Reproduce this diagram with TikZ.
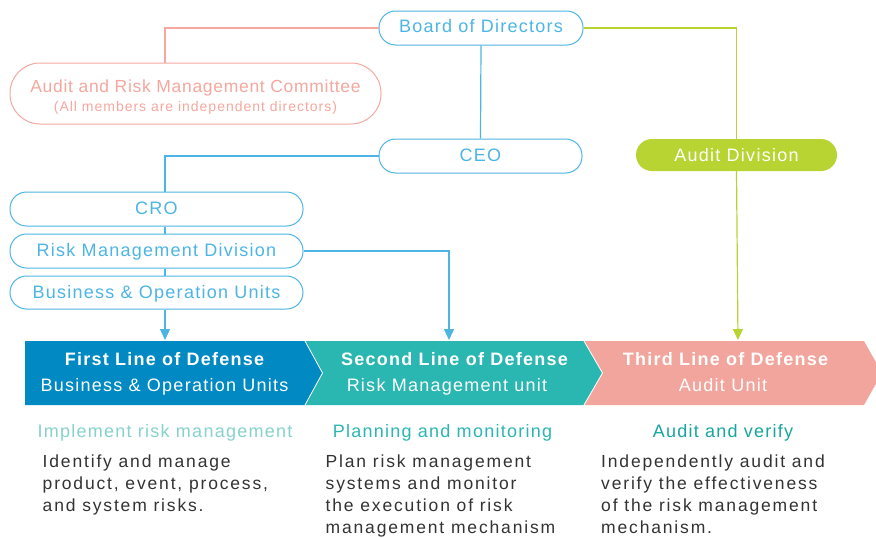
\documentclass[tikz,border=0pt]{standalone}
\usepackage{fontspec}
\setmainfont{Liberation Sans}
\newfontfamily\nodefont[LetterSpace=7]{Liberation Sans}
\newfontfamily\commfont[LetterSpace=4]{Liberation Sans}
\newfontfamily\bodyfont[LetterSpace=10.5]{Liberation Sans}
\usetikzlibrary{arrows.meta,calc}
\definecolor{bl}{HTML}{4DB5E6}
\definecolor{sal}{HTML}{F4A89F}
\definecolor{grn}{HTML}{B8D432}
\definecolor{cA}{HTML}{0089C2}
\definecolor{cB}{HTML}{2BB7B1}
\definecolor{cC}{HTML}{F2A59C}
\definecolor{hA}{HTML}{86D2CC}
\definecolor{hB}{HTML}{2BB7B1}
\definecolor{hC}{HTML}{17A69F}
\definecolor{txt}{HTML}{333333}
\tikzset{
  pill/.style={draw=bl, line width=1pt, fill=white, text=bl, rounded corners=16.5pt,
     minimum height=34pt, inner sep=0pt, font=\nodefont\fontsize{18}{20}\selectfont,
     text height=13pt, text depth=1.5pt},
  blline/.style={draw=bl, line width=1.2pt},
  chevtxt/.style={text=white, font=\nodefont\fontsize{18}{20}\selectfont, inner sep=0pt, anchor=base},
  chevhead/.style={text=white, font=\nodefont\bfseries\fontsize{18}{20}\selectfont, inner sep=0pt, anchor=base},
  headtxt/.style={font=\nodefont\fontsize{18}{20}\selectfont, inner sep=0pt, anchor=base},
  bodytxt/.style={font=\bodyfont\fontsize{17.5}{22}\selectfont, text=txt, inner sep=0pt, anchor=north west, align=left},
  arr/.style={-{Triangle[width=10pt,length=11pt]}}
}
\begin{document}
\begin{tikzpicture}[x=1pt,y=-1pt]
\clip (0,0) rectangle (876,538);
\fill[white] (0,0) rectangle (876,538);

% chevrons
\fill[cA] (25,341) -- (305,341) -- (322.5,373) -- (305,405) -- (25,405) -- cycle;
\fill[cB] (305,341) -- (584,341) -- (602.5,373) -- (584,405) -- (305,405) -- (322.5,373) -- cycle;
\fill[cC] (584,341) -- (864,341) -- (882,373) -- (864,405) -- (584,405) -- (602.5,373) -- cycle;
\draw[white, line width=0.8pt] (305,341) -- (322.5,373) -- (305,405);
\draw[white, line width=0.8pt] (584,341) -- (602.5,373) -- (584,405);
\coordinate (t1) at (165,340);
\coordinate (t2) at (449,340);
\coordinate (t3) at (738,340);

% org nodes
\node[pill, minimum width=204pt, text depth=4pt] (board) at (481,28) {Board of Directors};
\node[draw=sal, line width=1pt, rounded corners=30pt, minimum width=371pt, minimum height=61pt] (comm) at (195.5,93.5) {};
\node[text=sal, font=\commfont\fontsize{17.5}{20}\selectfont, inner sep=0pt, anchor=base] (comm1) at (195.5,92) {Audit and Risk Management Committee};
\node[text=sal, font=\nodefont\fontsize{14}{16}\selectfont, inner sep=0pt, anchor=base] (comm2) at (195.5,111) {(All members are independent directors)};
\node[pill, minimum width=203pt] (ceo) at (480.5,156) {CEO};
\node[fill=grn, text=white, rounded corners=16pt, minimum width=201pt, minimum height=32pt, inner sep=0pt,
      font=\nodefont\fontsize{18}{20}\selectfont, text height=13pt, text depth=0pt] (audit) at (736.5,155) {Audit Division};
\node[pill, minimum width=293pt] (cro) at (156.5,209) {CRO};
\node[pill, minimum width=293pt] (rmd) at (156.5,251) {Risk Management Division};
\node[pill, minimum width=293pt, minimum height=33pt] (bou) at (156.5,292.5) {Business \& Operation Units};

% connectors
\draw[draw=sal, line width=1.2pt] (board.west) -| ([xshift=-30.5pt]comm.north);
\draw[blline] (board.south) -- (ceo.north);
\draw[blline] (ceo.west) -| ([xshift=8.5pt]cro.north);
\draw[blline] ([xshift=8.5pt]cro.south) -- ([xshift=8.5pt]rmd.north);
\draw[blline] ([xshift=8.5pt]rmd.south) -- ([xshift=8.5pt]bou.north);
\draw[blline, arr] ([xshift=8.5pt]bou.south) -- (t1);
\draw[blline, arr] (rmd.east) -| (t2);
\draw[draw=grn, line width=1.2pt] (board.east) -| (audit.north);
\draw[draw=grn, line width=1.2pt, arr] (audit.south) -- (t3);

% chevron texts
\node[chevhead] (h1) at (164.5,365) {First Line of Defense};
\node[chevtxt] (s1) at (164.5,391) {Business \& Operation Units};
\node[chevhead] (h2) at (454.5,365) {Second Line of Defense};
\node[chevtxt] (s2) at (447,391) {Risk Management unit};
\node[chevhead] (h3) at (725.5,365) {Third Line of Defense};
\node[chevtxt] (s3) at (723,391) {Audit Unit};

% headings
\node[headtxt, text=hA] (g1) at (165,437) {Implement risk management};
\node[headtxt, text=hB] (g2) at (442.5,437) {Planning and monitoring};
\node[headtxt, text=hC] (g3) at (723,437) {Audit and verify};

% body texts
\node[bodytxt] (b1) at (42.5,455) {Identify and manage\\product, event, process,\\and system risks.};
\node[bodytxt] (b2) at (325.5,455) {Plan risk management\\systems and monitor\\the execution of risk\\management mechanism};
\node[bodytxt] (b3) at (601,455) {Independently audit and\\verify the effectiveness\\of the risk management\\mechanism.};
\end{tikzpicture}
\end{document}
